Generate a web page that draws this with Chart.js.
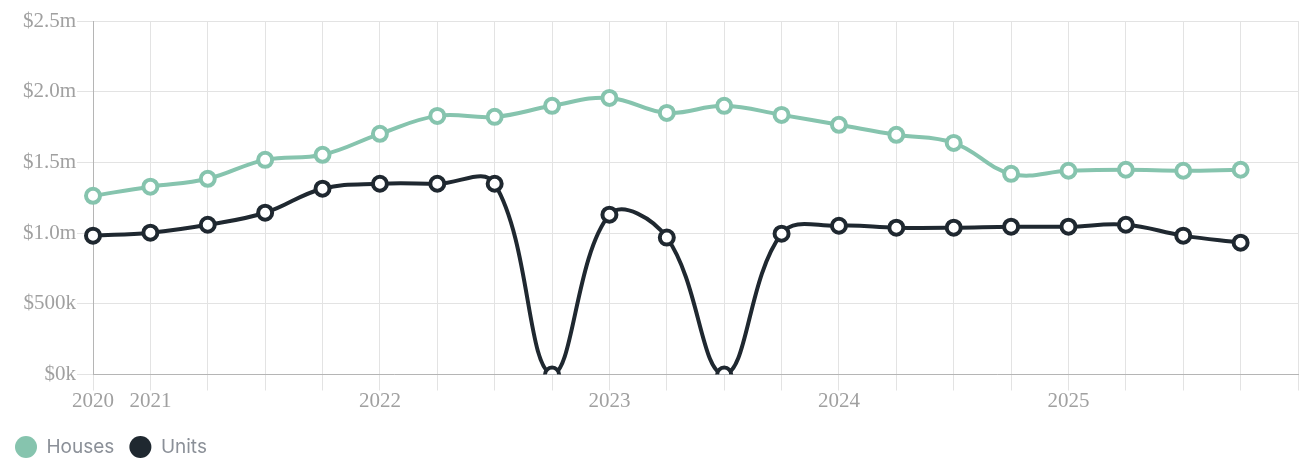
<!DOCTYPE html>
<html>
<head>
<meta charset="utf-8">
<script src="https://cdn.jsdelivr.net/npm/chart.js@4/dist/chart.umd.min.js"></script>
<style>
	html, body { margin: 0; padding: 0; background: #fff; }
	#wrap { width: 1309px; height: 463px; position: relative; }
</style>
</head>
<body>
<div id="wrap"><canvas id="myChart"></canvas></div>
<script>
// x categories (only year starts get a label, last slot is empty)
const labels = ['2020', '2021', '', '', '', '2022', '', '', '', '2023', '', '', '', '2024', '', '', '', '2025', '', '', '', '']

// median prices, dollars
const houses = [1264000, 1328000, 1384000, 1518000, 1554000, 1702000, 1829000, 1822000, 1900000, 1956000, 1850000,
	1900000, 1836000, 1766000, 1695000, 1638000, 1419000, 1441000, 1448000, 1441000, 1448000, null]
const units = [982000, 1003000, 1059000, 1144000, 1314000, 1349000, 1349000, 1349000, 0, 1130000, 968000,
	0, 996000, 1052000, 1038000, 1038000, 1045000, 1045000, 1059000, 982000, 932000, null]

const yTicks = [0, 500000, 1000000, 1500000, 2000000, 2500000]

function money(v) {
	if (v >= 1000000) return '$' + (v / 1000000).toFixed(1) + 'm'
	return '$' + Math.round(v / 1000) + 'k'
}

const tickFont = { family: "'Liberation Serif', 'Times New Roman', serif", size: 21, lineHeight: 1 }

const ctx = document.getElementById('myChart')
const myChart = new Chart(ctx, {
	type: 'line',
	data: {
		labels: labels,
		datasets: [
			{
				label: 'Houses',
				data: houses,
				borderColor: '#86c4ae',
				backgroundColor: '#86c4ae',
				pointBackgroundColor: '#ffffff',
				pointBorderColor: '#86c4ae',
				borderWidth: 4,
				pointBorderWidth: 4,
				pointRadius: 7,
				tension: 0.4,
			},
			{
				label: 'Units',
				data: units,
				borderColor: '#1f2830',
				backgroundColor: '#1f2830',
				pointBackgroundColor: '#ffffff',
				pointBorderColor: '#1f2830',
				borderWidth: 4,
				pointBorderWidth: 4,
				pointRadius: 7,
				tension: 0.4,
			},
		],
	},
	options: {
		responsive: true,
		maintainAspectRatio: false,
		animation: false,
		layout: { padding: { left: 0, right: 11, top: 21, bottom: -3.5 } },
		plugins: {
			tooltip: { enabled: false },
			legend: {
				display: true,
				position: 'bottom',
				align: 'start',
				labels: {
					usePointStyle: true,
					pointStyle: 'circle',
					pointStyleWidth: 22,
					boxHeight: 15.5,
					color: '#8b9098',
					font: { family: 'Inter, sans-serif', size: 19 },
					padding: 15,
					generateLabels: function (chart) {
						const items = Chart.defaults.plugins.legend.labels.generateLabels(chart)
						items.forEach(function (it, i) {
							const c = chart.data.datasets[i].borderColor
							it.fillStyle = c
							it.strokeStyle = c
							it.lineWidth = 0
						})
						return items
					},
				},
			},
		},
		scales: {
			x: {
				afterFit: function (axis) { axis.height = 48 },
				grid: { color: '#e3e3e3', tickLength: 16, tickColor: '#e3e3e3' },
				border: { color: '#b5b5b5' },
				ticks: {
					autoSkip: false,
					maxRotation: 0,
					padding: 0,
					color: '#a0a0a0',
					font: tickFont,
				},
			},
			y: {
				min: 0,
				max: 2500000,
				afterBuildTicks: function (axis) {
					axis.ticks = yTicks.map(function (v) { return { value: v } })
				},
				afterFit: function (axis) { axis.width = 93 },
				grid: { color: '#e3e3e3', tickLength: 16, tickColor: '#e3e3e3' },
				border: { color: '#b5b5b5' },
				ticks: {
					padding: 1,
					color: '#a0a0a0',
					font: tickFont,
					callback: function (v) { return money(v) },
				},
			},
		},
	},
})
</script>
</body>
</html>
